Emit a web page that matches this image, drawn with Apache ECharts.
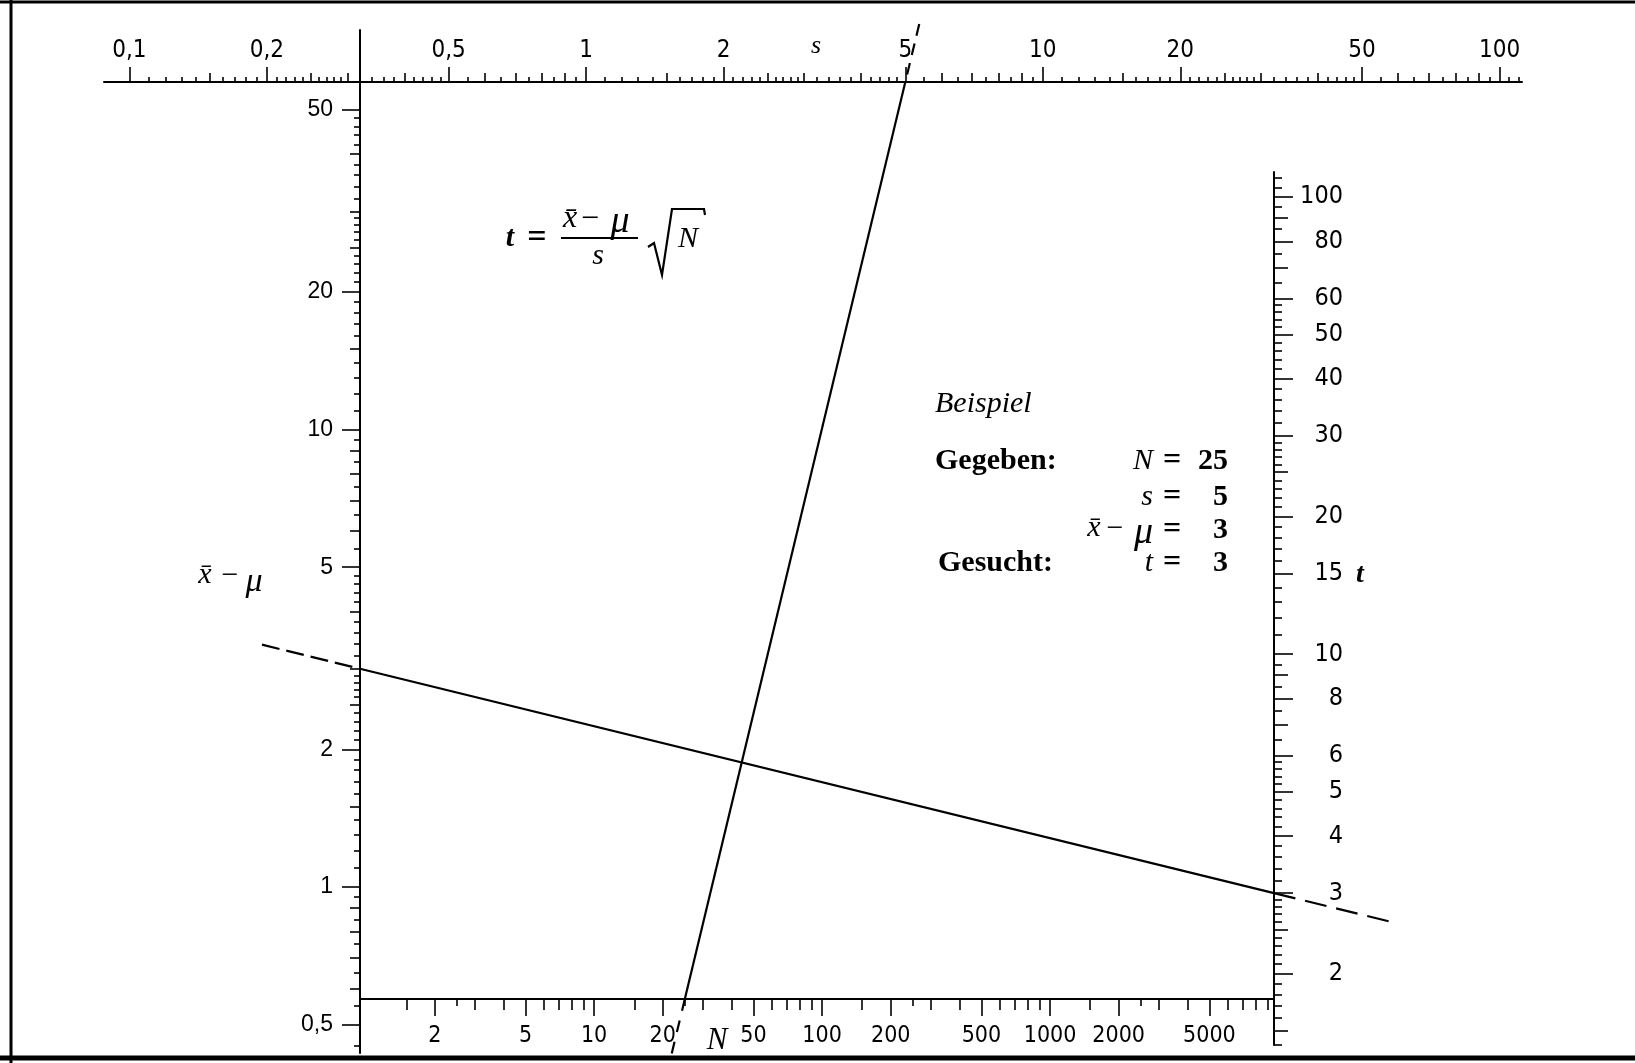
<!DOCTYPE html>
<html><head><meta charset="utf-8">
<script src="https://cdn.jsdelivr.net/npm/echarts@6/dist/echarts.min.js"></script>
<style>html,body{margin:0;padding:0;background:#fff}#c{width:1635px;height:1063px}</style>
</head><body><div id="c"></div>
<script>
// ---------------- data ----------------
// s scale (top)
const sRange = [0.088, 112];
const sLabels = [0.1, 0.2, 0.5, 1, 2, 5, 10, 20, 50, 100];
const sMedium = [0.15, 0.25, 0.3, 0.4, 0.6, 0.7, 0.8, 0.9, 1.5, 2.5, 3, 4, 6, 7, 8, 9, 15, 25, 30, 40, 60, 70, 80, 90];
const sMinorSteps = [[0.1,0.2,0.01],[0.2,0.3,0.01],[0.3,0.5,0.02],[0.5,1,0.05],[1,2,0.1],[2,3,0.1],[3,5,0.2],[5,10,0.5],[10,20,1],[20,30,1],[30,50,2],[50,100,5],[100,115,5]];
// x-mu scale (left)
const dRange = [0.4337, 74.7];
const dLabels = [0.5, 1, 2, 5, 10, 20, 50];
const dMedium = [0.6, 0.7, 0.8, 0.9, 1.5, 2.5, 3, 4, 6, 7, 8, 9, 15, 25, 30, 40];
const dMinorSteps = [[0.4,0.5,0.05],[0.5,1,0.05],[1,2,0.1],[2,3,0.1],[3,5,0.2],[5,10,0.5],[10,20,1],[20,30,1],[30,50,2]];
// t scale (right)
const tRange = [1.396, 113.4];
const tLabels = [2, 3, 4, 5, 6, 8, 10, 15, 20, 30, 40, 50, 60, 80, 100];
const tMedium = [1.5, 2.5, 7, 9, 25, 70, 90];
const tMinorSteps = [[1.3,2,0.1],[2,3,0.1],[3,6,0.2],[6,10,0.5],[10,15,1],[15,20,1],[20,30,1],[30,60,2],[60,100,5],[100,115,5]];
// N scale (bottom)
const nRange = [0.94, 9600];
const nLabels = [2, 5, 10, 20, 50, 100, 200, 500, 1000, 2000, 5000];
const nMedium = [1.5, 3, 4, 6, 7, 8, 9, 15, 30, 40, 60, 70, 80, 90, 150, 300, 400, 600, 700, 800, 900, 1500, 3000, 4000, 6000, 7000, 8000, 9000];
const nMinor = [2.5, 25, 250, 2500];
// worked example
const exampleN = 25, exampleS = 5, exampleDiff = 3, exampleT = 3;

// ---------------- helpers ----------------
const L = Math.log10;
function stepTicks(spec, exclude) {
  const out = [];
  spec.forEach(([a, b, st]) => {
    const n = Math.round((b - a) / st);
    for (let i = 1; i < n; i++) {
      const v = +(a + i * st).toFixed(6);
      if (!exclude.some(e => Math.abs(e - v) < 1e-9) && !out.includes(v)) out.push(v);
    }
  });
  return out;
}
const fmt = v => String(+Math.pow(10, v).toPrecision(6)).replace('.', ',');
const NARROW = "'Liberation Sans Narrow','DejaVu Sans Condensed',Arial,sans-serif";
const SERIF = "'Liberation Serif','DejaVu Serif',serif";

function tierAxes(g, range, pos, tiers, lab) {
  return tiers.map((t, i) => ({
    type: 'value', gridIndex: g, position: pos, min: L(range[0]), max: L(range[1]),
    axisLine: {show: i === 0, onZero: false, lineStyle: {color: '#000', width: 2}},
    axisTick: {show: true, inside: false, length: t.len, customValues: t.values.map(L), lineStyle: {color: '#000', width: 1.6}},
    axisLabel: i === 0 ? Object.assign({show: true, customValues: t.values.map(L), formatter: fmt, color: '#000'}, lab) : {show: false},
    splitLine: {show: false}, minorTick: {show: false}, axisPointer: {show: false}
  }));
}
const hidden = (g, a, b, inv) => ({type: 'value', gridIndex: g, min: a, max: b, inverse: !!inv, show: false,
  axisLine: {show: false, onZero: false}, splitLine: {show: false}});

const sMinor = stepTicks(sMinorSteps, sLabels.concat(sMedium));
const dMinor = stepTicks(dMinorSteps, dLabels.concat(dMedium));
const tMinor = stepTicks(tMinorSteps, tLabels.concat(tMedium));

const grids = [
  {left: 104, top: 82, width: 1418, height: 10},   // 0 s (top)
  {left: 360, top: 989, width: 914, height: 10},   // 1 N (bottom)
  {left: 360, top: 30, width: 10, height: 1023},   // 2 x-mu (left)
  {left: 1264, top: 172, width: 10, height: 873},  // 3 t (right)
  {left: 0, top: 0, width: 1635, height: 1063}     // 4 drawing plane
].map(g => Object.assign({containLabel: false, outerBoundsMode: 'none', show: false}, g));

const xAxes = [].concat(
  tierAxes(0, sRange, 'top', [{values: sLabels, len: 15}, {values: sMedium, len: 9}, {values: sMinor, len: 5}],
    {fontSize: 24, fontFamily: NARROW, margin: 19}),
  tierAxes(1, nRange, 'bottom', [{values: nLabels, len: 17}, {values: nMedium, len: 11}, {values: nMinor, len: 7}],
    {fontSize: 23, fontFamily: NARROW, margin: 26}),
  [hidden(2, 0, 1), hidden(3, 0, 1), hidden(4, 0, 1635)]
);
const yAxes = [].concat(
  [hidden(0, 0, 1), hidden(1, 0, 1)],
  tierAxes(2, dRange, 'left', [{values: dLabels, len: 18}, {values: dMedium, len: 10}, {values: dMinor, len: 6}],
    {fontSize: 23, fontFamily: "'Liberation Sans',Arial,sans-serif", margin: 27}),
  tierAxes(3, tRange, 'right', [{values: tLabels, len: 19}, {values: tMedium, len: 14}, {values: tMinor, len: 8}],
    {fontSize: 25, fontFamily: NARROW, margin: 69, align: 'right'}),
  [hidden(4, 0, 1063, true)]
);

const txt = (text, x, y, font, align, extra) => ({type: 'text', x, y, silent: true,
  style: Object.assign({text, font, fill: '#000', align: align || 'left', verticalAlign: 'middle'}, extra || {})});
const ln = (x1, y1, x2, y2, w) => ({type: 'line', silent: true, shape: {x1, y1, x2, y2}, style: {stroke: '#000', lineWidth: w}});

const graphics = [
  // frame
  ln(0, 2, 1635, 2, 3), ln(11, 0, 11, 1063, 3), ln(0, 1058, 1635, 1058, 5),
  // formula
  txt('t', 510, 238, "italic bold 30px " + SERIF, 'center'),
  txt('=', 537, 238, "bold 34px " + SERIF, 'center'),
  txt('x\u0304', 570, 219, "italic 32px " + SERIF, 'center'),
  txt('\u2212', 590, 220, "32px " + SERIF, 'center'),
  txt('\u03bc', 620, 222, "italic 38px " + SERIF, 'center'),
  ln(561, 238, 638, 238, 2),
  txt('s', 598, 256, "italic 30px " + SERIF, 'center'),
  {type: 'polyline', silent: true, shape: {points: [[648, 247], [654, 243], [662, 275], [672, 209], [704, 209], [705, 215]]},
    style: {stroke: '#000', lineWidth: 2.2, fill: null}},
  txt('N', 688, 239, "italic 30px " + SERIF, 'center'),
  // axis titles
  txt('s', 816, 46, "italic 26px " + SERIF, 'center'),
  txt('x\u0304', 205, 575, "italic 30px " + SERIF, 'center'),
  txt('\u2212', 230, 576, "30px " + SERIF, 'center'),
  txt('\u03bc', 254, 582, "italic 34px " + SERIF, 'center'),
  txt('t', 1360, 575, "italic bold 28px " + SERIF, 'center'),
  txt('N', 717, 1041, "italic 31px " + SERIF, 'center'),
  // example
  txt('Beispiel', 935, 404, "italic 30px " + SERIF, 'left'),
  txt('Gegeben:', 935, 461, "bold 30px " + SERIF, 'left'),
  txt('Gesucht:', 938, 563, "bold 30px " + SERIF, 'left'),
  txt('N', 1153, 461, "italic 30px " + SERIF, 'right'),
  txt('s', 1153, 497, "italic 30px " + SERIF, 'right'),
  txt('x\u0304', 1094, 528, "italic 30px " + SERIF, 'center'),
  txt('\u2212', 1115, 529, "30px " + SERIF, 'center'),
  txt('\u03bc', 1153, 533, "italic 38px " + SERIF, 'right'),
  txt('t', 1153, 563, "italic 30px " + SERIF, 'right'),
  txt('=', 1172, 461, "bold 32px " + SERIF, 'center'),
  txt('=', 1172, 497, "bold 32px " + SERIF, 'center'),
  txt('=', 1172, 530, "bold 32px " + SERIF, 'center'),
  txt('=', 1172, 563, "bold 32px " + SERIF, 'center'),
  txt(String(exampleN), 1228, 461, "bold 30px " + SERIF, 'right'),
  txt(String(exampleS), 1228, 497, "bold 30px " + SERIF, 'right'),
  txt(String(exampleDiff), 1228, 530, "bold 30px " + SERIF, 'right'),
  txt(String(exampleT), 1228, 563, "bold 30px " + SERIF, 'right')
];

const chart = echarts.init(document.getElementById('c'), null, {renderer: 'canvas'});
chart.setOption({
  animation: false, backgroundColor: '#fff',
  grid: grids, xAxis: xAxes, yAxis: yAxes, graphic: graphics, series: []
});

// worked-example lines, located through the axes' own scales
const P1 = [chart.convertToPixel({xAxisIndex: 0}, L(exampleS)), chart.convertToPixel({yAxisIndex: 0}, 1)];
const P2 = [chart.convertToPixel({xAxisIndex: 3}, L(exampleN)), chart.convertToPixel({yAxisIndex: 1}, 0)];
const Q1 = [chart.convertToPixel({xAxisIndex: 6}, 0), chart.convertToPixel({yAxisIndex: 2}, L(exampleDiff))];
const Q2 = [chart.convertToPixel({xAxisIndex: 7}, 1), chart.convertToPixel({yAxisIndex: 5}, L(exampleT))];
const atY = (A, B, y) => [A[0] + (B[0] - A[0]) * (y - A[1]) / (B[1] - A[1]), y];
const atX = (A, B, x) => [x, A[1] + (B[1] - A[1]) * (x - A[0]) / (B[0] - A[0])];
const E1 = atY(P1, P2, P1[1] - 58), E2 = atY(P1, P2, P2[1] + 62);
const E3 = atX(Q1, Q2, Q1[0] - 98), E4 = atX(Q1, Q2, Q2[0] + 123);
const D = p => chart.convertFromPixel({gridIndex: 4}, p);
const seg = (a, b, type) => ({type: 'line', xAxisIndex: 8, yAxisIndex: 8, data: [D(a), D(b)], symbol: 'none',
  silent: true, clip: false, lineStyle: {color: '#000', width: 2.2, type: type || 'solid'}});
chart.setOption({series: [
  seg(P1, P2), seg(Q1, Q2),
  seg(E1, P1, [12, 8]), seg(P2, E2, [12, 10]),
  seg(E3, Q1, [18, 7]), seg(Q2, E4, [22, 10])
]});
</script></body></html>
